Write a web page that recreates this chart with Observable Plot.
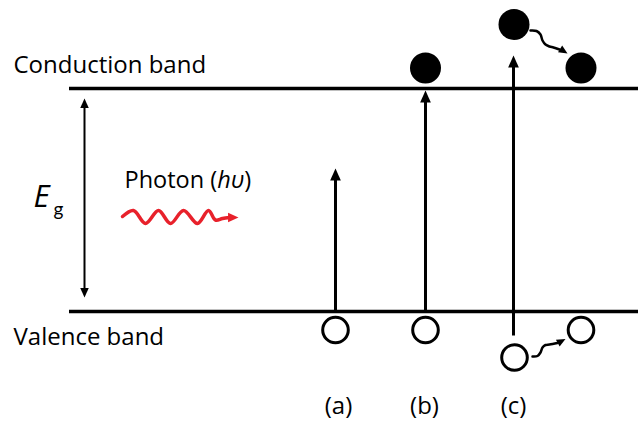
<!DOCTYPE html>
<html><head><meta charset="utf-8">
<script src="https://cdn.jsdelivr.net/npm/d3@7"></script>
<script src="https://cdn.jsdelivr.net/npm/@observablehq/plot@0.6"></script>
<style>html,body{margin:0;padding:0;background:#fff;} #chart svg{display:block}</style>
</head><body><div id="chart"></div>
<script>
// ---- data (pixel units of the 638x424 picture) ----
const bandLabels = ["Conduction band", "Valence band"];
const bandLevels = [88, 311];
const bandStart = 69;
const bandEnd = 638;
const bandLabelBaselines = [72, 344];

const gapArrowX = 84;
const gapArrowEnds = [98, 297];

const transitionLabels = ["(a)", "(b)", "(c)"];
const transitionX = [335, 425, 513];
const transitionTop = [168, 90, 55];
const transitionBottom = [311, 311, 335];
const transitionLabelX = [338, 424, 513];

const electronX = [425, 513.5, 580.5];
const electronY = [67.5, 24, 67.5];
const holeX = [335, 425, 580.5, 514];
const holeY = [329.5, 329.5, 329.5, 357];

const photonX = [122, 133, 145, 158, 170, 183, 197, 208, 215, 222, 229];
const photonY = [216, 210, 223, 210, 223, 210, 223, 210, 219.5, 218, 217];
const photonTip = [238, 217];

const electronHopX = [530, 536, 540, 542, 545, 549, 553, 559];
const electronHopY = [30, 30.5, 34, 40, 44, 46, 47, 49];
const electronHopTip = [567, 53];
const holeHopX = [532, 537, 540, 542, 545, 549, 557];
const holeHopY = [356, 355.5, 352, 347, 344.5, 344, 342.5];
const holeHopTip = [565, 338.5];

// ---- helpers ----
const arrowHead = {
  draw(context, size) {
    const r = Math.sqrt(size / Math.PI);
    context.moveTo(0, 0);
    context.lineTo(0.85 * r, 1.9 * r);
    context.lineTo(-0.85 * r, 1.9 * r);
    context.closePath();
  }
};
const pts = (xs, ys) => xs.map((x, i) => ({x, y: ys[i]}));

const bands = bandLevels.map((y, i) => ({y, label: bandLabels[i], base: bandLabelBaselines[i]}));
const transitions = transitionX.map((x, i) => ({x, top: transitionTop[i], bottom: transitionBottom[i], label: transitionLabels[i], lx: transitionLabelX[i]}));
const transHeads = transitions.map(d => ({x: d.x, y: d.top, a: 0}));
const gapHeads = [{x: gapArrowX, y: gapArrowEnds[0], a: 0}, {x: gapArrowX, y: gapArrowEnds[1], a: 180}];
const hopHeads = [
  {x: electronHopTip[0], y: electronHopTip[1], a: 122},
  {x: holeHopTip[0], y: holeHopTip[1], a: 62}
];
const font = "Open Sans";

const svg = Plot.plot({
  width: 638, height: 424, margin: 0,
  x: {domain: [0, 638], range: [0, 638], axis: null},
  y: {domain: [0, 424], range: [0, 424], axis: null},
  style: {background: "white", color: "black", fontFamily: font, overflow: "visible"},
  marks: [
    // bands
    Plot.ruleY(bands, {y: "y", x1: () => bandStart, x2: () => bandEnd, stroke: "black", strokeWidth: 3.5}),
    Plot.text(bands, {x: () => 13, y: "base", text: "label", textAnchor: "start", lineAnchor: "bottom", fontSize: 24, fontFamily: font, fill: "black"}),
    // band gap arrow
    Plot.link([0], {x1: () => gapArrowX, x2: () => gapArrowX, y1: () => gapArrowEnds[0] + 6, y2: () => gapArrowEnds[1] - 6, stroke: "black", strokeWidth: 2}),
    Plot.dot(gapHeads, {x: "x", y: "y", rotate: "a", symbol: arrowHead, r: 5, fill: "black", stroke: "none"}),
    Plot.text(["E"], {x: () => 33, y: () => 206, text: d => d, textAnchor: "start", lineAnchor: "bottom", fontSize: 31, fontStyle: "italic", fontFamily: font}),
    Plot.text(["g"], {x: () => 53, y: () => 215, text: d => d, textAnchor: "start", lineAnchor: "bottom", fontSize: 19, fontFamily: "Lato"}),
    // photon
    Plot.text(["Photon (hυ)"], {x: () => 124, y: () => 187, text: d => d, textAnchor: "start", lineAnchor: "bottom", fontSize: 23.5, fontFamily: font, fill: "black"}),
    Plot.line(pts(photonX, photonY), {x: "x", y: "y", curve: "catmull-rom", stroke: "#e8212b", strokeWidth: 3.5}),
    Plot.dot([{x: photonTip[0], y: photonTip[1], a: 90}], {x: "x", y: "y", rotate: "a", symbol: arrowHead, r: 5.5, fill: "#e8212b", stroke: "none"}),
    // transitions
    Plot.link(transitions, {x1: "x", x2: "x", y1: "bottom", y2: d => d.top + 6, stroke: "black", strokeWidth: 3}),
    Plot.dot(transHeads, {x: "x", y: "y", rotate: "a", symbol: arrowHead, r: 6.3, fill: "black", stroke: "none"}),
    Plot.text(transitions, {x: "lx", y: () => 413, text: "label", textAnchor: "middle", lineAnchor: "bottom", fontSize: 24, fontFamily: font, fill: "black"}),
    // electrons and holes
    Plot.dot(pts(electronX, electronY), {x: "x", y: "y", r: 15.5, fill: "black", stroke: "none"}),
    Plot.dot(pts(holeX, holeY), {x: "x", y: "y", r: 12.8, fill: "white", stroke: "black", strokeWidth: 3}),
    // relaxation squiggles
    Plot.line(pts(electronHopX, electronHopY), {x: "x", y: "y", curve: "catmull-rom", stroke: "black", strokeWidth: 2.5}),
    Plot.line(pts(holeHopX, holeHopY), {x: "x", y: "y", curve: "catmull-rom", stroke: "black", strokeWidth: 2.5}),
    Plot.dot(hopHeads, {x: "x", y: "y", rotate: "a", symbol: arrowHead, r: 4.6, fill: "black", stroke: "none"})
  ]
});

d3.select(svg).selectAll("text").each(function() {
  if (this.textContent === "Photon (hυ)") {
    const t = d3.select(this);
    t.text("");
    t.append("tspan").text("Photon (");
    t.append("tspan").attr("font-style", "italic").text("hυ");
    t.append("tspan").text(")");
  }
});

document.getElementById("chart").appendChild(svg);
</script>
</body></html>
